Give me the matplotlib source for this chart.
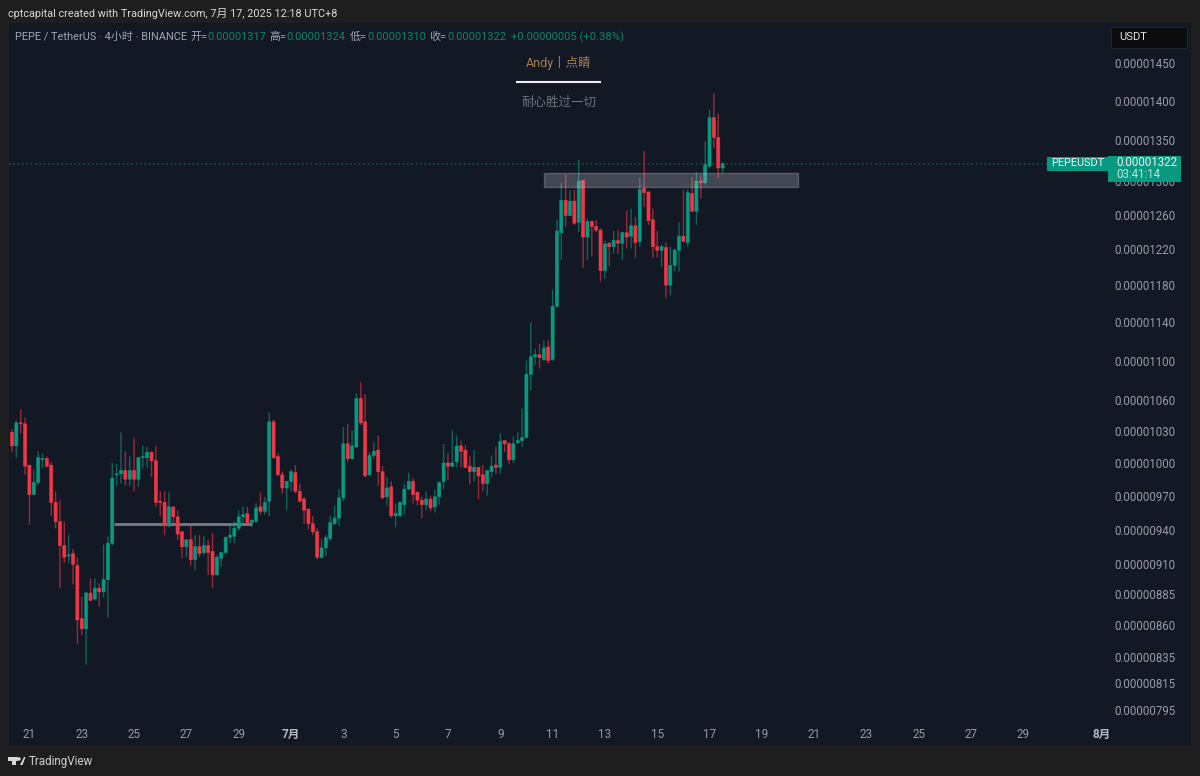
import numpy as np
import matplotlib
matplotlib.use('Agg')
import matplotlib.pyplot as plt
import matplotlib.dates as mdates
from matplotlib.patches import Rectangle, Polygon, Circle
from matplotlib.transforms import ScaledTranslation

# prices are in units of 0.00000001 USDT
opens = [1030,1017,1039,1038,999,972,983,1004,1005,999,965,948,927,918,920,910,866,858,887,882,
         891,888,898,929,990,991,994,986,994,986,1006,1006,1011,1003,966,965,944,961,952,939,
         926,932,915,926,921,927,922,902,916,921,934,935,942,952,955,947,948,961,957,966,
         1040,1007,990,978,984,992,975,968,959,946,939,917,925,933,946,951,969,1019,1005,1016,
         1063,1040,990,1008,1013,993,970,979,953,953,963,977,984,974,967,963,968,961,970,984,
         1001,998,1002,1017,1013,998,993,997,990,982,993,999,997,1022,1019,1004,1020,1022,1025,1087,
         1105,1107,1102,1115,1102,1158,1240,1278,1260,1277,1252,1302,1235,1253,1247,1243,1197,1228,1224,1231,
         1228,1240,1236,1248,1230,1292,1288,1255,1224,1220,1223,1181,1203,1220,1236,1229,1286,1265,1301,1299,
         1319,1380,1355,1317]
highs = [1033,1041,1052,1044,999,995,1012,1010,1007,1002,975,967,948,936,924,917,884,888,899,899,
         895,928,935,1001,1000,1030,1012,1007,1025,1006,1017,1016,1012,1017,975,975,974,961,958,939,
         932,944,936,936,935,932,938,919,921,935,944,948,958,961,961,950,964,974,970,1049,
         1042,1010,993,984,995,999,982,970,959,953,942,933,936,953,962,977,1035,1038,1032,1068,
         1079,1067,1011,1021,1027,998,988,984,964,965,982,992,987,975,970,975,971,976,984,1019,
         1010,1032,1027,1022,1018,1007,1013,997,999,994,1008,1016,1029,1022,1021,1026,1030,1053,1101,1141,
         1113,1118,1122,1122,1176,1255,1299,1309,1290,1290,1327,1302,1256,1254,1255,1245,1231,1229,1242,1243,
         1241,1266,1268,1258,1305,1338,1288,1268,1242,1226,1229,1224,1222,1252,1290,1291,1306,1312,1308,1350,
         1390,1412,1385,1324]
lows = [1011,1006,1029,990,945,972,981,996,997,953,942,891,912,912,894,846,853,830,881,881,
        876,883,867,927,980,982,980,980,975,979,996,997,988,961,953,936,943,944,932,916,
        917,910,906,917,919,902,891,902,909,920,929,929,940,944,945,943,947,954,954,953,
        1005,989,973,958,975,973,965,946,941,936,915,916,918,931,945,944,966,1002,1004,1015,
        1037,988,989,1005,980,968,962,951,943,952,954,976,964,962,951,958,957,956,963,977,
        985,997,997,997,996,981,984,968,975,971,988,991,991,1011,1000,1001,1019,1016,1024,1071,
        1097,1093,1101,1098,1101,1157,1209,1247,1260,1249,1241,1200,1209,1213,1241,1185,1188,1202,1216,1216,
        1209,1222,1222,1211,1224,1270,1249,1211,1212,1201,1167,1170,1196,1196,1229,1224,1265,1249,1280,1297,
        1318,1341,1305,1310]
closes = [1017,1039,1038,998,972,983,1006,1005,998,965,948,927,917,919,911,865,858,887,881,891,
          888,898,929,987,991,994,986,994,986,1006,1007,1011,1003,965,965,945,961,952,937,926,
          932,915,926,920,927,921,902,917,921,934,936,942,952,954,947,949,960,957,965,1040,
          1006,990,978,984,993,975,966,958,946,939,917,925,934,947,951,969,1019,1005,1017,1063,
          1039,989,1008,1012,993,969,978,953,955,965,977,984,972,967,963,968,960,970,983,1001,
          998,1001,1017,1012,997,993,997,989,982,994,998,997,1021,1019,1004,1019,1022,1025,1087,1105,
          1107,1104,1114,1101,1158,1242,1278,1260,1277,1251,1301,1235,1253,1247,1243,1197,1227,1224,1231,1228,
          1240,1235,1248,1229,1291,1287,1254,1224,1220,1224,1181,1203,1220,1236,1230,1287,1265,1301,1299,1321,
          1380,1355,1317,1322]

price_ticks = [1450,1400,1350,1300,1260,1220,1180,1140,1100,1060,1030,1000,970,940,910,885,860,835,815,795]
date_ticks = ['2025-06-21','2025-06-23','2025-06-25','2025-06-27','2025-06-29','2025-07-01','2025-07-03',
              '2025-07-05','2025-07-07','2025-07-09','2025-07-11','2025-07-13','2025-07-15','2025-07-17',
              '2025-07-19','2025-07-21','2025-07-23','2025-07-25','2025-07-27','2025-07-29','2025-08-01']
date_labels = ['21','23','25','27','29','7月','3','5','7','9','11','13','15','17','19','21','23','25','27','29','8月']

first_candle = '2025-06-20T08:00'
last_price = 1322
zone_low, zone_high = 1294, 1311
zone_start, zone_end = '2025-07-10T16:00', '2025-07-20T09:00'
level_price = 946
level_start, level_end = '2025-06-24T05:30', '2025-06-29T12:00'

GREEN = '#089981'
RED = '#f23645'
FONT = ['Roboto', 'Noto Sans CJK SC', 'DejaVu Sans']
plt.rcParams['font.family'] = FONT

W, H = 1200, 776
fig = plt.figure(figsize=(W/100, H/100), dpi=100, facecolor='#1e1e1e')

# layer for the dark panel behind the chart
bg = fig.add_axes([0, 0, 1, 1], zorder=0)
bg.set_xlim(0, W)
bg.set_ylim(H, 0)
bg.axis('off')
bg.add_patch(Rectangle((9, 23), 1182, 722, fc='#131825', ec='none'))

# price chart, log scale like the TradingView pane
ax = fig.add_axes([9/W, 1-723/H, 1099/W, 700/H], zorder=1)
ax.patch.set_alpha(0)
for s in ax.spines.values():
    s.set_visible(False)

o = np.array(opens)*1e-8
h = np.array(highs)*1e-8
l = np.array(lows)*1e-8
c = np.array(closes)*1e-8
t0 = mdates.date2num(np.datetime64(first_candle))
x = t0 + np.arange(len(o))/6.0
cols = [GREEN if c[i] >= o[i] else RED for i in range(len(o))]

wicks = ax.vlines(x, l, h, colors=cols, linewidth=1.0, alpha=0.6, zorder=2)
wicks.set_snap(False)
bars = ax.bar(x, np.abs(c-o), bottom=np.minimum(o, c), width=0.118, color=cols, linewidth=0.4, edgecolor=cols, zorder=3)
for b in bars:
    b.set_snap(False)

ax.set_yscale('log')
ax.set_ylim(786e-8, 1507e-8)
ax.set_xlim(t0-0.688/6, t0+251.4/6)

last_line = ax.axhline(last_price*1e-8, color=GREEN, linestyle=(0, (1, 2.5)), linewidth=0.9, alpha=0.8, zorder=1)
last_line.set_snap(False)
zs = mdates.date2num(np.datetime64(zone_start))
ze = mdates.date2num(np.datetime64(zone_end))
ax.fill_between([zs, ze], zone_low*1e-8, zone_high*1e-8, facecolor='#c8c9d0', alpha=0.27, edgecolor='#d0d0d8', linewidth=1, zorder=4)
ax.hlines(level_price*1e-8, mdates.date2num(np.datetime64(level_start)), mdates.date2num(np.datetime64(level_end)),
          color='#787b86', linewidth=2, zorder=1.5)

ax.yaxis.tick_right()
ax.set_yticks(np.array(price_ticks)*1e-8)
ax.set_yticklabels(['%.8f' % (p*1e-8) for p in price_ticks])
ax.minorticks_off()
ax.tick_params(axis='y', which='both', length=0, pad=4.7, labelsize=8.3, labelcolor='#9a9ca5')
# nudge the price labels up a pixel, the CJK fallback sits them low
nudge = ScaledTranslation(0, 1/100, fig.dpi_scale_trans)
for lab in ax.get_yticklabels():
    lab.set_transform(lab.get_transform() + nudge)
ax.set_xticks(mdates.date2num(np.array(date_ticks, dtype='datetime64[D]')))
ax.set_xticklabels(date_labels)
ax.tick_params(axis='x', length=0, pad=3.5, labelsize=8.4, labelcolor='#9a9ca5')
for lab, name in zip(ax.get_xticklabels(), date_labels):
    if name.endswith('月'):
        lab.set_fontweight('bold')
        lab.set_color('#b8bac2')

# layer for header, labels and footer, in pixel coordinates
top = fig.add_axes([0, 0, 1, 1], zorder=2)
top.set_xlim(0, W)
top.set_ylim(H, 0)
top.axis('off')

def label(px, py, s, color, size=8.4, ha='left', **kw):
    top.text(px, py+1, s, color=color, fontsize=size, ha=ha, va='center', family=FONT, **kw)

label(8, 12.5, 'cptcapital created with TradingView.com, 7月 17, 2025 12:18 UTC+8', '#d8d8d8', 7.85)

grey = '#a3a6af'
teal = '#12806c'
label(15, 35.5, 'PEPE / TetherUS · 4小时 · BINANCE', grey, 7.9)
for px, s in [(190, '开='), (269, '高='), (350, '低='), (429, '收=')]:
    label(px, 35.5, s, grey, 7.9)
for px, s in [(207, '0.00001317'), (286, '0.00001324'), (367, '0.00001310'), (447, '0.00001322')]:
    label(px, 36, s, teal, 7.9)
label(511, 36, '+0.00000005 (+0.38%)', teal, 8.1)

label(558.5, 61.5, 'Andy丨点睛', '#a47f50', 9, ha='center')
top.plot([517, 600], [82, 82], color='#f0f0f0', linewidth=1.5)
label(558.5, 101.5, '耐心胜过一切', '#70737c', 9, ha='center')

top.add_patch(Rectangle((1111, 27), 76, 21, fc='#0c0c0e', ec='#2a2e39', lw=0.5))
label(1119, 36.5, 'USDT', '#e6e6e6', 8)

top.add_patch(Rectangle((1047, 156.5), 61, 14.5, fc=GREEN, ec='none'))
top.add_patch(Rectangle((1108, 156), 73, 26, fc=GREEN, ec='none'))
label(1051, 162.5, 'PEPEUSDT', '#f2f2f2', 7.9)
label(1116, 162, '0.00001322', '#f2f2f2', 8.3)
label(1116, 174, '03:41:14', '#bfe6de', 8.3)

# TradingView logo and name
logo = '#d8d8d8'
top.add_patch(Rectangle((8, 757), 10, 3.5, fc=logo, ec='none'))
top.add_patch(Rectangle((12, 757), 4, 8, fc=logo, ec='none'))
top.add_patch(Circle((19, 759), 1.7, fc=logo, ec='none'))
top.add_patch(Polygon([[20, 765], [24, 757], [25.5, 757], [22.5, 765]], fc=logo, ec='none'))
label(29, 760.5, 'TradingView', '#d0d0d0', 8.4)

fig.savefig('out.png', dpi=100, facecolor=fig.get_facecolor())
